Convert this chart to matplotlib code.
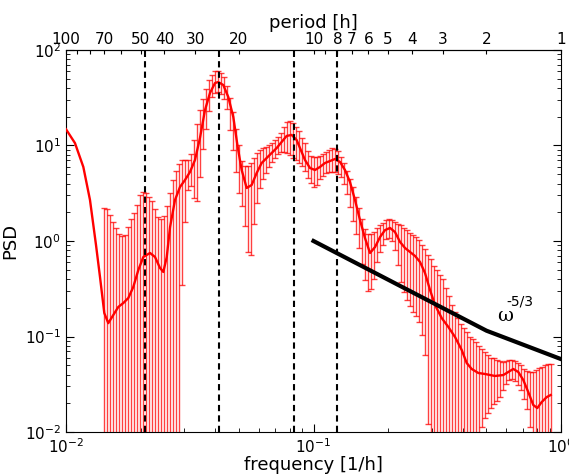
import numpy as np
import matplotlib.pyplot as plt
from matplotlib.ticker import NullLocator

# smoothed spectrum (red curve)
line_freq = [0.01, 0.01087, 0.01175, 0.0125, 0.01322, 0.01372, 0.01428, 0.01482, 0.01553, 0.01627,
             0.01704, 0.01786, 0.0187, 0.0196, 0.02053, 0.02185, 0.02289, 0.02398, 0.02473, 0.02553,
             0.02633, 0.02757, 0.02888, 0.03025, 0.03169, 0.0332, 0.03478, 0.03644, 0.03818, 0.03999,
             0.04123, 0.0432, 0.04526, 0.04742, 0.0494, 0.05126, 0.0537, 0.05626, 0.05894, 0.06174,
             0.06468, 0.06776, 0.07099, 0.07437, 0.07791, 0.08163, 0.08551, 0.0882, 0.0924, 0.0968,
             0.1014, 0.1062, 0.1113, 0.1166, 0.1221, 0.128, 0.134, 0.1404, 0.1471, 0.1541,
             0.1615, 0.1692, 0.1773, 0.1857, 0.1945, 0.2038, 0.2135, 0.2237, 0.2343, 0.2455,
             0.2572, 0.2694, 0.2822, 0.2957, 0.3097, 0.3296, 0.3505, 0.3731, 0.3971, 0.4159,
             0.4357, 0.4634, 0.4931, 0.5408, 0.5847, 0.6124, 0.6415, 0.672, 0.7039, 0.7374,
             0.7725, 0.8019, 0.8358, 0.8755, 0.9086]
line_psd = [14.8, 10.6, 5.96, 2.69, 0.908, 0.42, 0.176, 0.138, 0.168, 0.204,
            0.224, 0.253, 0.33, 0.497, 0.68, 0.749, 0.68, 0.522, 0.474, 0.68,
            1.40, 2.69, 3.68, 4.35, 5.28, 7.05, 12.0, 23.5, 35.5, 45.1,
            46.2, 43.0, 32.2, 19.9, 9.64, 5.54, 3.59, 3.86, 5.15, 6.56,
            7.40, 8.35, 9.41, 10.9, 12.6, 12.9, 11.4, 9.41, 7.05, 5.81,
            5.54, 5.96, 6.56, 6.88, 7.22, 6.72, 5.54, 4.15, 2.69, 1.66,
            1.07, 0.749, 0.865, 1.10, 1.30, 1.37, 1.24, 0.977, 0.845, 0.767,
            0.697, 0.603, 0.462, 0.307, 0.214, 0.156, 0.126, 0.0988, 0.0722, 0.0528,
            0.0457, 0.0415, 0.0405, 0.0386, 0.0395, 0.0425, 0.0457, 0.0425, 0.0351, 0.0262,
            0.0192, 0.0178, 0.0206, 0.0232, 0.0244]

# error bars: log-spaced frequency grid, log10 of upper / lower ends
bar_freq = np.geomspace(0.01424, 0.911, 150)
bar_hi_log = [0.35, 0.33, 0.27, 0.20, 0.14, 0.07, 0.05, 0.06, 0.15, 0.23,
              0.29, 0.38, 0.48, 0.51, 0.50, 0.46, 0.42, 0.34, 0.25, 0.23,
              0.26, 0.37, 0.50, 0.64, 0.73, 0.81, 0.85, 0.85, 0.85, 0.91,
              1.06, 1.22, 1.37, 1.49, 1.59, 1.69, 1.74, 1.78, 1.78, 1.76,
              1.72, 1.62, 1.50, 1.35, 1.17, 1.00, 0.84, 0.79, 0.79, 0.82,
              0.87, 0.92, 0.95, 0.97, 0.98, 1.01, 1.03, 1.06, 1.09, 1.13,
              1.19, 1.25, 1.26, 1.24, 1.19, 1.15, 1.08, 1.03, 0.94, 0.89,
              0.88, 0.88, 0.89, 0.91, 0.93, 0.95, 0.97, 0.96, 0.94, 0.88,
              0.82, 0.73, 0.65, 0.57, 0.46, 0.35, 0.23, 0.13, 0.07, 0.07,
              0.09, 0.14, 0.17, 0.19, 0.22, 0.23, 0.22, 0.20, 0.18, 0.17,
              0.14, 0.12, 0.08, 0.06, 0.04, 0.01, -0.04, -0.08, -0.15, -0.19,
              -0.26, -0.30, -0.36, -0.40, -0.49, -0.58, -0.67, -0.74, -0.81, -0.87,
              -0.91, -0.95, -1.00, -1.03, -1.06, -1.10, -1.13, -1.16, -1.19, -1.22,
              -1.23, -1.25, -1.26, -1.27, -1.26, -1.25, -1.25, -1.26, -1.28, -1.30,
              -1.34, -1.36, -1.37, -1.37, -1.35, -1.33, -1.32, -1.30, -1.29, -1.29]
bar_lo_log = ([-4] * 26 +
              [-0.46, 0.20, 0.53, 0.58, 0.45, 0.42, 0.67, 0.96, 1.17, 1.36,
               1.51, 1.55, 1.56, 1.54, 1.49, 1.38, 1.16, 0.95, 0.72, 0.50,
               0.37, 0.16, -0.11, -0.15, 0.18, 0.40, 0.56, 0.65, 0.71, 0.78,
               0.83, 0.87, 0.91, 0.93, 0.93, 0.92, 0.90, 0.87, 0.85, 0.82,
               0.79, 0.73, 0.66, 0.61, 0.57, 0.59, 0.65, 0.68, 0.71, 0.72,
               0.72, 0.72, 0.70, 0.67, 0.60, 0.49, 0.36, 0.21, 0.07, -0.07,
               -0.24, -0.41, -0.52, -0.50, -0.40, -0.22, -0.11, -0.04, 0.02, 0.03,
               0.00, -0.09, -0.25, -0.43, -0.53, -0.62, -0.68, -0.74, -0.79, -0.85, -0.98, -1.19,
               -1.92] +
              [-4] * 17 +
              [-1.95, -1.85, -1.80, -1.75, -1.71, -1.68, -1.63, -1.56, -1.50, -1.46,
               -1.45, -1.47, -1.51, -1.56, -1.65, -1.76, -1.95] +
              [-4] * 7)

# reference slope line
slope_freq = [0.1, 0.5, 1.0]
slope_psd = [1.0, 0.115, 0.058]

# tidal periods marked with dashed lines [h]
tide_periods = [48, 24, 12, 8]

period_ticks = [100, 90, 80, 70, 60, 50, 40, 30, 20, 10, 9, 8, 7, 6, 5, 4, 3, 2, 1]
period_labels = ['100', '', '', '70', '', '50', '40', '30', '20',
                 '10', '', '8', '7', '6', '5', '4', '3', '2', '1']


def inverse(x):
    x = np.asarray(x, dtype=float)
    with np.errstate(divide='ignore'):
        return 1.0 / x


fig = plt.figure(figsize=(5.69, 4.74), dpi=100)
ax = fig.add_axes([66 / 569, 42 / 474, 495 / 569, 382 / 474])

hi = 10 ** np.array(bar_hi_log)
lo = 10 ** np.array(bar_lo_log)
mid = np.sqrt(hi * lo)
ax.errorbar(bar_freq, mid, yerr=[mid - lo, hi - mid], fmt='none', ecolor='red',
            elinewidth=1.0, capsize=2, capthick=1.0, alpha=0.75)

ax.plot(line_freq, line_psd, color='red', lw=1.7, zorder=3)
ax.plot(slope_freq, slope_psd, color='black', lw=3, zorder=4)
for p in tide_periods:
    ax.axvline(1.0 / p, color='black', lw=1.5, ls=(0, (3, 2)), zorder=5)

ax.set_xscale('log')
ax.set_yscale('log')
ax.set_xlim(0.01, 1)
ax.set_ylim(0.01, 100)
ax.tick_params(which='both', direction='in', top=False, right=True, labelsize=11)
ax.tick_params(which='major', length=6)
ax.tick_params(which='minor', length=3)
ax.set_xlabel('frequency [1/h]', fontsize=13, labelpad=0)
ax.set_ylabel('PSD', fontsize=13, labelpad=4)

ax.text(0.887, 0.304, 'ω', transform=ax.transAxes, fontsize=14,
        family='DejaVu Serif', ha='center', va='center')
ax.text(0.917, 0.342, '-5/3', transform=ax.transAxes, fontsize=10,
        ha='center', va='center')

sec = ax.secondary_xaxis('top', functions=(inverse, inverse))
sec.set_xticks(period_ticks, period_labels)
sec.xaxis.set_minor_locator(NullLocator())
sec.tick_params(direction='in', length=3, labelsize=11, pad=2)
sec.set_xlabel('period [h]', fontsize=13, labelpad=3)

fig.savefig('out.png', dpi=100)
